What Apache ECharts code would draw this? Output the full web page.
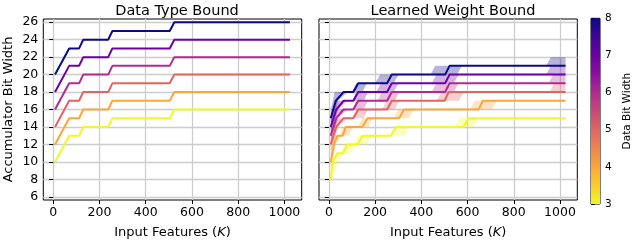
<!DOCTYPE html>
<html><head><meta charset="utf-8">
<script src="https://cdn.jsdelivr.net/npm/echarts@6/dist/echarts.min.js"></script>
<style>html,body{margin:0;padding:0;background:#fff}#c{width:634px;height:244px}</style>
</head><body><div id="c"></div>
<script>
// ---------- data ----------
const bitWidths = [3, 4, 5, 6, 7, 8];
const lineColors = ['#f0f921', '#fca636', '#e16462', '#b12a90', '#6a00a8', '#0d0887'];
const xTicks = [0, 200, 400, 600, 800, 1000];
const yTicks = [6, 8, 10, 12, 14, 16, 18, 20, 22, 24, 26];
const cbTicks = [3, 4, 5, 6, 7, 8];
const panelTitles = ['Data Type Bound', 'Learned Weight Bound'];

// Data Type Bound (left) : K values and accumulator bits per data bit width
const dtbK = [8, 69, 112, 130, 238, 256, 504, 524, 1024];
const dtb3 = [10, 13, 13, 14, 14, 15, 15, 16, 16];
const dtb4 = [12, 15, 15, 16, 16, 17, 17, 18, 18];
const dtb5 = [14, 17, 17, 18, 18, 19, 19, 20, 20];
const dtb6 = [16, 19, 19, 20, 20, 21, 21, 22, 22];
const dtb7 = [18, 21, 21, 22, 22, 23, 23, 24, 24];
const dtb8 = [20, 23, 23, 24, 24, 25, 25, 26, 26];

// Learned Weight Bound (right): central line, upper and lower envelopes
const lwb3Line  = [[8,8],[16,10],[37,11],[62,11],[80,12],[124,12],[145,13],[268,13],[290,14],[583,14],[603,15],[1024,15]];
const lwb3Upper = [[8,9],[14,10],[28,11],[50,11],[65,12],[105,12],[125,13],[272,13],[290,14],[544,14],[564,15],[1024,15]];
const lwb3Lower = [[8,7],[25,9],[45,10],[60,11],[95,11],[115,12],[165,12],[185,13],[325,13],[345,14],[628,14],[648,15],[1024,15]];

const lwb4Line  = [[8,10],[22,12],[37,13],[60,13],[73,14],[145,14],[167,15],[304,15],[325,16],[648,16],[666,17],[1024,17]];
const lwb4Upper = [[8,11],[20,13],[45,13],[60,14],[125,14],[145,15],[280,15],[300,16],[611,16],[631,17],[1024,17]];
const lwb4Lower = [[8,9],[30,12],[50,13],[85,13],[105,14],[170,14],[190,15],[347,15],[367,16],[706,16],[726,17],[1024,17]];

const lwb5Line  = [[8,12],[32,14],[63,15],[106,15],[127,16],[252,16],[272,17],[501,17],[518,18],[1024,18]];
const lwb5Upper = [[8,13],[25,15],[100,15],[118,16],[230,16],[250,17],[467,17],[487,18],[955,18],[975,19],[1024,19]];
const lwb5Lower = [[8,11],[40,14],[80,15],[150,15],[170,16],[285,16],[305,17],[563,17],[583,18],[1024,18]];

const lwb6Line  = [[8,13],[32,15],[63,16],[106,16],[127,17],[252,17],[272,18],[503,18],[522,19],[1024,19]];
const lwb6Upper = [[8,14],[25,16],[100,16],[118,17],[210,17],[230,18],[445,18],[465,19],[950,19],[970,20],[1024,20]];
const lwb6Lower = [[8,12],[40,15],[80,16],[150,16],[170,17],[285,17],[305,18],[540,18],[562,19],[1024,19]];

const lwb7Line  = [[8,14],[32,16],[63,17],[106,17],[127,18],[252,18],[272,19],[503,19],[522,20],[1024,20]];
const lwb7Upper = [[8,15],[25,17],[100,17],[118,18],[205,18],[225,19],[445,19],[465,20],[940,20],[960,21],[1024,21]];
const lwb7Lower = [[8,13],[40,16],[80,17],[150,17],[170,18],[280,18],[302,19],[540,19],[562,20],[1024,20]];

const lwb8Line  = [[8,15],[30,17],[63,18],[106,18],[127,19],[252,19],[272,20],[503,20],[522,21],[1024,21]];
const lwb8Upper = [[8,16],[25,18],[100,18],[118,19],[200,19],[222,20],[440,20],[460,21],[940,21],[960,22],[1024,22]];
const lwb8Lower = [[8,14],[40,17],[80,18],[145,18],[165,19],[280,19],[302,20],[555,20],[575,21],[1024,21]];

// ---------- chart ----------
const dtbAll = [dtb3, dtb4, dtb5, dtb6, dtb7, dtb8];
const lwbLines = [lwb3Line, lwb4Line, lwb5Line, lwb6Line, lwb7Line, lwb8Line];
const lwbUppers = [lwb3Upper, lwb4Upper, lwb5Upper, lwb6Upper, lwb7Upper, lwb8Upper];
const lwbLowers = [lwb3Lower, lwb4Lower, lwb5Lower, lwb6Lower, lwb7Lower, lwb8Lower];

const FONT = 'DejaVu Sans';
const X_MIN = -42.8, X_MAX = 1074.8, Y_MIN = 5.63, Y_MAX = 26.37;
const gridCol = '#cccccc';

function xAxisFor(idx) {
  return {
    type: 'value', gridIndex: idx, min: X_MIN, max: X_MAX,
    name: '{n|Input Features (}{i|K}{n|)}', nameLocation: 'middle', nameGap: 26,
    nameTextStyle: { rich: { n: { fontFamily: FONT, fontSize: 13, color: '#000' }, i: { fontFamily: FONT, fontSize: 13, fontStyle: 'italic', color: '#000' } } },
    axisLine: { show: false },
    axisTick: { show: true, inside: false, length: 4, customValues: xTicks, lineStyle: { color: '#000', width: 1 } },
    axisLabel: { customValues: xTicks, formatter: v => String(v), fontFamily: FONT, fontSize: 12.5, color: '#000', margin: 6 },
    splitLine: { show: true, customValues: xTicks, lineStyle: { color: gridCol, width: 1.3 } }
  };
}
function yAxisFor(idx, showLabels) {
  return {
    type: 'value', gridIndex: idx, min: Y_MIN, max: Y_MAX,
    name: showLabels ? 'Accumulator Bit Width' : '', nameLocation: 'middle', nameGap: 28,
    nameTextStyle: { fontFamily: FONT, fontSize: 13, color: '#000' },
    axisLine: { show: false },
    axisTick: { show: true, inside: false, length: 4, customValues: yTicks, lineStyle: { color: '#000', width: 1 } },
    axisLabel: { show: showLabels, customValues: yTicks, formatter: v => String(v), fontFamily: FONT, fontSize: 12.5, color: '#000', margin: 5 },
    splitLine: { show: true, customValues: yTicks, lineStyle: { color: gridCol, width: 1.3 } }
  };
}

const series = [];
// left lines
dtbAll.forEach((vals, i) => {
  series.push({
    type: 'line', xAxisIndex: 0, yAxisIndex: 0, showSymbol: false, z: 3,
    lineStyle: { color: lineColors[i], width: 2 }, itemStyle: { color: lineColors[i] },
    data: dtbK.map((k, j) => [k, vals[j]])
  });
});
// right bands
lwbUppers.forEach((up, i) => {
  const lo = lwbLowers[i];
  series.push({
    type: 'custom', xAxisIndex: 1, yAxisIndex: 1, z: 2, silent: true,
    renderItem: (params, api) => {
      const pts = up.map(p => api.coord(p)).concat(lo.slice().reverse().map(p => api.coord(p)));
      return { type: 'polygon', shape: { points: pts }, style: { fill: lineColors[i], opacity: 0.3 } };
    },
    data: [[up[0][0], up[0][1]]]
  });
});
// right lines
lwbLines.forEach((pts, i) => {
  series.push({
    type: 'line', xAxisIndex: 1, yAxisIndex: 1, showSymbol: false, z: 3,
    lineStyle: { color: lineColors[i], width: 2 }, itemStyle: { color: lineColors[i] },
    data: pts
  });
});
// colorbar
series.push({
  type: 'custom', xAxisIndex: 2, yAxisIndex: 2, silent: true, z: 2,
  renderItem: (params, api) => {
    const a = api.coord([0, cbTicks[cbTicks.length - 1]]);
    const b = api.coord([1, cbTicks[0]]);
    return {
      type: 'rect', shape: { x: a[0], y: a[1], width: b[0] - a[0], height: b[1] - a[1] },
      style: {
        fill: new echarts.graphic.LinearGradient(0, 0, 0, 1, [
          { offset: 0, color: '#0d0887' }, { offset: 0.1, color: '#41049d' }, { offset: 0.2, color: '#6a00a8' },
          { offset: 0.3, color: '#8f0da4' }, { offset: 0.4, color: '#b12a90' }, { offset: 0.5, color: '#cc4778' },
          { offset: 0.6, color: '#e16462' }, { offset: 0.7, color: '#f2844b' }, { offset: 0.8, color: '#fca636' },
          { offset: 0.9, color: '#fcce25' }, { offset: 1, color: '#f0f921' }
        ])
      }
    };
  },
  data: [[0, 3]]
});

const chart = echarts.init(document.getElementById('c'), null, { renderer: 'canvas' });
chart.setOption({
  animation: false,
  backgroundColor: '#fff',
  title: [
    { text: panelTitles[0], left: 172, top: -1, textAlign: 'center', textStyle: { fontFamily: FONT, fontSize: 14.5, fontWeight: 'normal', color: '#000' } },
    { text: panelTitles[1], left: 448, top: -1, textAlign: 'center', textStyle: { fontFamily: FONT, fontSize: 14.5, fontWeight: 'normal', color: '#000' } }
  ],
  grid: [
    { left: 43.3, top: 19, width: 258.4, height: 184.3, show: true, borderColor: '#000', borderWidth: 1, backgroundColor: 'transparent' },
    { left: 319, top: 19, width: 258.3, height: 184.3, show: true, borderColor: '#000', borderWidth: 1, backgroundColor: 'transparent' },
    { left: 591, top: 18.3, width: 13, height: 185.7, show: true, borderColor: '#000', borderWidth: 1, backgroundColor: 'transparent' }
  ],
  xAxis: [xAxisFor(0), xAxisFor(1),
    { type: 'value', gridIndex: 2, min: 0, max: 1, show: false }],
  yAxis: [yAxisFor(0, true), yAxisFor(1, false),
    { type: 'value', gridIndex: 2, min: 3, max: 8, interval: 1, position: 'right',
      name: 'Data Bit Width', nameLocation: 'middle', nameGap: 22, nameRotate: 90,
      nameTextStyle: { fontFamily: FONT, fontSize: 10.5, color: '#000' },
      axisLine: { show: false }, splitLine: { show: false },
      axisTick: { show: true, inside: false, length: 4, lineStyle: { color: '#000' } },
      axisLabel: { fontFamily: FONT, fontSize: 10.5, color: '#000', margin: 5 } }
  ],
  series: series
});
</script></body></html>
